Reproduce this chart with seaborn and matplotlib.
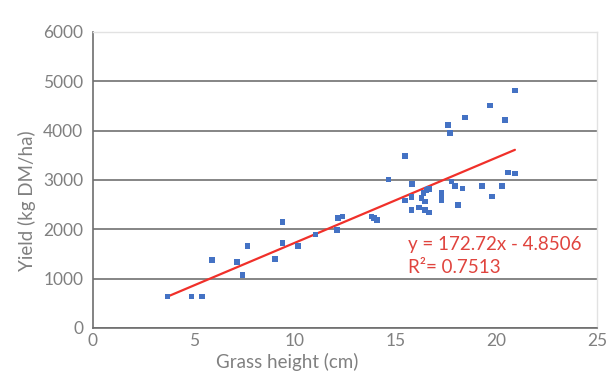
import numpy as np
import matplotlib.pyplot as plt
import seaborn as sns

# grass height (cm) vs yield (kg DM/ha)
height = [3.70, 4.90, 5.42, 5.90, 7.16, 7.42, 7.66, 9.03, 9.40, 9.41,
          10.16, 11.03, 12.10, 12.17, 12.37, 13.82, 13.95, 14.10, 14.65, 15.48,
          15.84, 15.81, 15.48, 15.81, 16.17, 16.30, 16.47, 16.39, 16.55, 16.68,
          16.47, 16.68, 17.30, 17.30, 17.30, 17.61, 17.71, 17.79, 17.96, 18.32,
          18.12, 18.45, 19.31, 19.69, 19.78, 20.30, 20.44, 20.60, 20.93, 20.93]
yield_dm = [640, 640, 640, 1372, 1338, 1074, 1656, 1399, 2150, 1717,
            1665, 1895, 1986, 2223, 2257, 2257, 2225, 2189, 3005, 3486,
            2919, 2649, 2580, 2392, 2439, 2629, 2560, 2730, 2797, 2811,
            2392, 2337, 2730, 2662, 2595, 4108, 3946, 2966, 2878, 2824,
            2493, 4263, 2878, 4506, 2662, 2878, 4210, 3148, 3128, 4810]

# trendline as reported on the chart
slope = 172.72
intercept = -4.8506
r2 = 0.7513

sns.set_style("white")
plt.rcParams["font.family"] = ["Lato", "DejaVu Sans"]

fig = plt.figure(figsize=(6.07, 3.76), dpi=100)
ax = fig.add_axes([0.153, 0.128, 0.8305, 0.787])

sns.scatterplot(x=height, y=yield_dm, ax=ax, marker="s", s=16,
                color="#4472c4", edgecolor="none", zorder=3)

# linear trendline across the data range
xs = np.array([min(height), max(height)])
ax.plot(xs, slope * xs + intercept, color="#f0302a", lw=1.6, zorder=2)

ax.text(15.65, 1690, f"y = {slope}x - {abs(intercept)}", color="#e0443e",
        fontsize=13.5, va="center")
ax.text(15.65, 1230, f"R\u00b2= {r2}", color="#e0443e", fontsize=13.5, va="center")

ax.set_xlim(0, 25)
ax.set_ylim(0, 6000)
ax.set_xticks([0, 5, 10, 15, 20, 25])
ax.set_yticks(range(0, 6001, 1000))
ax.grid(axis="y", color="#858585", lw=1.4)
ax.set_axisbelow(True)

for side in ["left", "bottom"]:
    ax.spines[side].set_color("#6e6e6e")
    ax.spines[side].set_linewidth(1.2)
for side in ["top", "right"]:
    ax.spines[side].set_color("#e2e2e2")
    ax.spines[side].set_linewidth(1.0)

ax.tick_params(axis="both", colors="#808080", labelsize=12.5, length=4,
               direction="out", width=1)
ax.tick_params(axis="x", length=0, pad=4)
ax.tick_params(axis="y", colors="#6e6e6e", labelcolor="#808080", pad=3)

ax.set_xlabel("Grass height (cm)", color="#808080", fontsize=13.5)
ax.set_ylabel("Yield (kg DM/ha)", color="#808080", fontsize=13.5)
# labels sit off-centre in the original
ax.xaxis.set_label_coords(0.386, -0.086)
ax.yaxis.set_label_coords(-0.113, 0.43)

plt.savefig("out.png", dpi=100)
